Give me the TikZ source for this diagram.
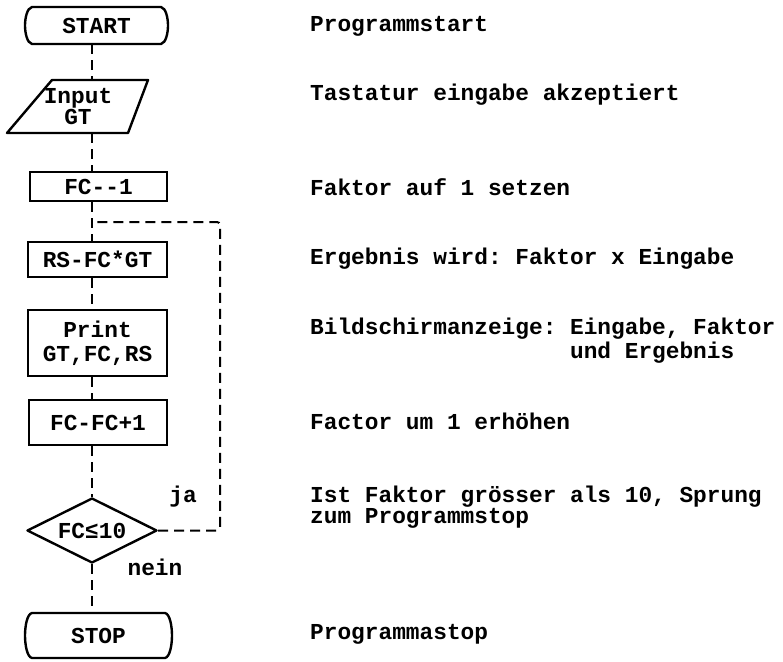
\documentclass[tikz,border=0pt]{standalone}
\usepackage{fontspec}
\setmainfont{Liberation Mono}
\usetikzlibrary{shapes.geometric}
\begin{document}
\frenchspacing
\begin{tikzpicture}[x=1pt,y=-1pt,
  font=\fontsize{22.8}{24}\selectfont\bfseries\frenchspacing,
  box/.style={draw,line width=2.4pt,rectangle,inner sep=0pt,align=center},
  shapeline/.style={line width=2.4pt,line join=round},
  conn/.style={line width=2pt,dash pattern=on 10pt off 6pt},
  note/.style={anchor=base west,inner sep=0pt,align=left},
  lbl/.style={inner sep=0pt}]
\useasboundingbox (0,0) rectangle (783,661);

\coordinate (spine) at (92,0);
\coordinate (loopx) at (220,0);

% Start terminator
\node[inner sep=0pt,minimum width=143pt,minimum height=37pt] (start) at (96.5,25.5) {START};
\begin{scope}[shift={(start.center)}]
\draw[shapeline] (-64.5,-18.5) -- (64.5,-18.5) .. controls (69.5,-17.5) and (71.5,-7) .. (71.5,0)
  .. controls (71.5,7) and (69.5,17.5) .. (64.5,18.5) -- (-64.5,18.5)
  .. controls (-69.5,17.5) and (-71.5,7) .. (-71.5,0)
  .. controls (-71.5,-7) and (-69.5,-17.5) .. (-64.5,-18.5) -- cycle;
\end{scope}

% Input parallelogram
\node[inner sep=0pt,minimum width=121pt,minimum height=53pt,align=center] (input) at (78,106.5) {Input\\[-3pt]GT};
\begin{scope}[shift={(input.center)}]
\draw[shapeline] (-26,-26.5) -- (70,-26.5) -- (50,26.5) -- (-71,26.5) -- cycle;
\end{scope}

\node[box,minimum width=137pt,minimum height=29pt] (fc1) at (98.5,186.5) {FC-\kern0pt-\kern0pt1};
\node[box,minimum width=139pt,minimum height=35pt] (rs) at (97.5,259.5) {RS-FC*GT};
\node[box,minimum width=139pt,minimum height=66pt] (print) at (97.5,343) {Print\\GT,FC,RS};
\node[box,minimum width=138pt,minimum height=45pt] (inc) at (98,422.5) {FC-FC+1};
\node[draw,shapeline,diamond,aspect=2,inner sep=0pt,minimum width=130pt,minimum height=65pt] (dec) at (92,530.5) {FC≤10};

% Stop terminator
\node[inner sep=0pt,minimum width=147pt,minimum height=45pt] (stop) at (98.5,635.5) {STOP};
\begin{scope}[shift={(stop.center)}]
\draw[shapeline] (-66.5,-22.5) -- (66.5,-22.5) .. controls (71.5,-21.5) and (73.5,-9) .. (73.5,0)
  .. controls (73.5,9) and (71.5,21.5) .. (66.5,22.5) -- (-66.5,22.5)
  .. controls (-71.5,21.5) and (-73.5,9) .. (-73.5,0)
  .. controls (-73.5,-9) and (-71.5,-21.5) .. (-66.5,-22.5) -- cycle;
\end{scope}

\coordinate (j) at (92,222);

% connectors
\draw[conn] (start.south -| spine) -- (input.north -| spine);
\draw[conn] (input.south -| spine) -- (fc1.north -| spine);
\draw[conn] (fc1.south -| spine) -- (j) -- (rs.north -| spine);
\draw[conn] (rs.south -| spine) -- (print.north -| spine);
\draw[conn] (print.south -| spine) -- (inc.north -| spine);
\draw[conn] (inc.south -| spine) -- (dec.north);
\draw[conn] (dec.south) -- (stop.north -| spine);
\draw[conn,rounded corners=3pt] (dec.east) -- (dec.east -| loopx) -- (j -| loopx) -- (j);

\node[lbl] (ja) at (183,497) {ja};
\node[lbl] (nein) at (155,567) {nein};

% descriptions (base anchor = baseline of last line)
\node[note] (n1) at (310,31) {Programmstart};
\node[note] (n2) at (310,100) {Tastatur eingabe akzeptiert};
\node[note] (n3) at (310,195) {Faktor auf 1 setzen};
\node[note] (n4) at (310,264) {Ergebnis wird: Faktor x Eingabe};
\node[note] (n5) at (310,358) {Bildschirmanzeige: Eingabe, Faktor\\\hspace*{259.92pt}und Ergebnis};
\node[note] (n6) at (310,429) {Factor um 1 erhöhen};
\node[note] (n7) at (310,523) {Ist Faktor grösser als 10, Sprung\\[-3pt]zum Programmstop};
\node[note] (n8) at (310,639) {Programmastop};
\end{tikzpicture}
\end{document}
